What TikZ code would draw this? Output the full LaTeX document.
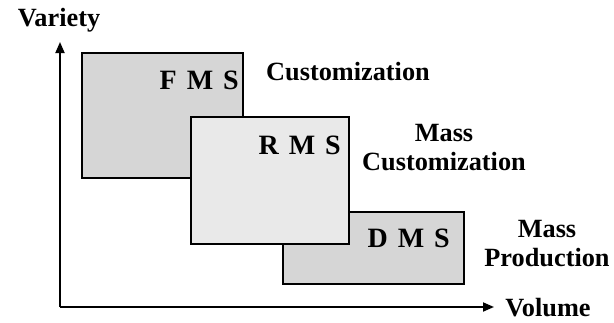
\documentclass[tikz,border=0pt]{standalone}
\usepackage{fontspec}
\setmainfont{Liberation Serif}
\usetikzlibrary{arrows.meta}
\definecolor{boxdark}{HTML}{D6D6D6}
\definecolor{boxlight}{HTML}{E9E9E9}
\tikzset{
  sysbox/.style={draw=black, line width=2.6pt},
  axisline/.style={line width=1.8pt, -{Triangle[length=11pt,width=9pt]}},
  lbl/.style={font=\bfseries\fontsize{26.3}{29}\selectfont, inner sep=0pt, align=center},
  boxlbl/.style={font=\bfseries\fontsize{28}{32}\selectfont, inner sep=0pt, anchor=east},
}
\begin{document}
\begin{tikzpicture}[x=1pt,y=-1pt]
\useasboundingbox (0,0) rectangle (614,322);
% axes
\coordinate (origin) at (60,307);
\coordinate (ytip) at (60,42);
\coordinate (xtip) at (494,307);
\draw[axisline] (origin) -- (ytip);
\draw[axisline] (origin) -- (xtip);
% boxes
\path[sysbox, fill=boxdark] (82,53) rectangle (243,178) coordinate (fmsbr);
\path[sysbox, fill=boxdark] (283,212) rectangle (464,284) coordinate (dmsbr);
\path[sysbox, fill=boxlight] (191,117) rectangle (349,244) coordinate (rmsbr);
% box labels
\node[boxlbl] (fms) at (239,80) {F\hspace{10pt}M\hspace{10pt}S};
\node[boxlbl] (rms) at (341,145) {R\hspace{10pt}M\hspace{10pt}S};
\node[boxlbl] (dms) at (450,238) {D\hspace{10pt}M\hspace{10pt}S};
% text labels
\node[lbl] (variety) at (59,20) {Variety};
\node[lbl] (volume) at (548,308) {Volume};
\node[lbl] (cust) at (348,72) {Customization};
\node[lbl] (mcust) at (444,148) {Mass\\Customization};
\node[lbl] (mprod) at (547,244) {Mass\\Production};
\end{tikzpicture}
\end{document}
